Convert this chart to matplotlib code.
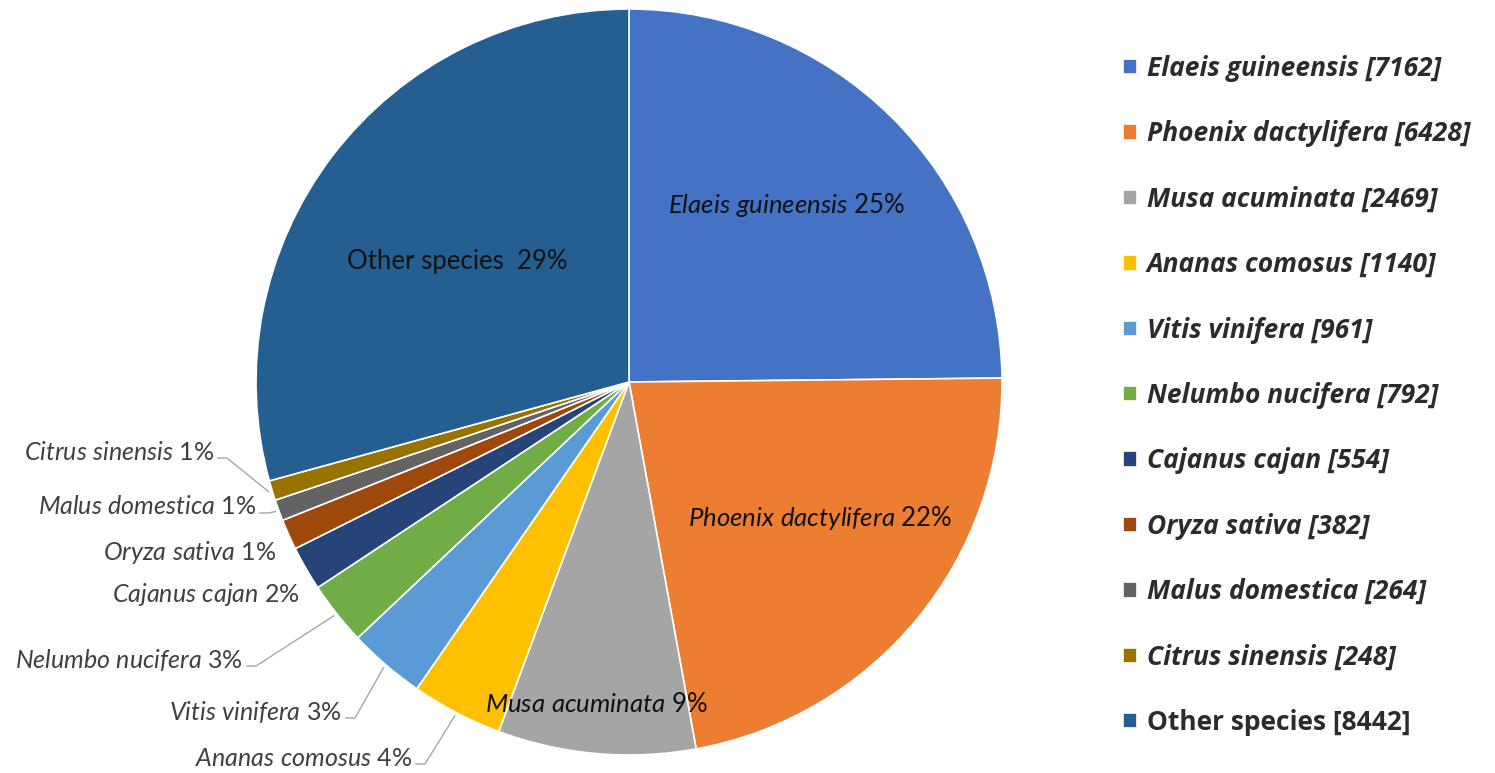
import numpy as np
import matplotlib.pyplot as plt
from matplotlib import font_manager

plt.rcParams['mathtext.fontset'] = 'custom'
plt.rcParams['mathtext.it'] = 'Lato:italic'
plt.rcParams['mathtext.rm'] = 'Lato'

available = {f.name for f in font_manager.fontManager.ttflist}
inner_font = 'Liberation Sans Narrow' if 'Liberation Sans Narrow' in available else 'Lato'

species = ['Elaeis guineensis', 'Phoenix dactylifera', 'Musa acuminata', 'Ananas comosus',
           'Vitis vinifera', 'Nelumbo nucifera', 'Cajanus cajan', 'Oryza sativa',
           'Malus domestica', 'Citrus sinensis', 'Other species']
counts = [7162, 6428, 2469, 1140, 961, 792, 554, 382, 264, 248, 8442]
colors = ['#4472C4', '#ED7D31', '#A5A5A5', '#FFC000', '#5B9BD5', '#70AD47',
          '#264478', '#9E480E', '#636363', '#997300', '#255E91']

W, H = 1495, 773
cx, cy, R = 629, 382, 373

# label layout in image pixels (x, y from top)
inner_pos = {0: (668, 205), 1: (688, 518), 2: (485, 704), 10: (347, 262)}
outer_pos = {3: (412, 758), 4: (342, 712), 5: (243, 660), 6: (300, 594),
             7: (276, 552), 8: (256, 507), 9: (214, 452)}
with_leader = [3, 4, 5, 8, 9]

total = sum(counts)
pcts = [round(100 * c / total) for c in counts]

fig = plt.figure(figsize=(W / 100, H / 100), dpi=100)
ax = fig.add_axes([0, 0, 1, 1])
wedges, _ = ax.pie(counts, colors=colors, startangle=90, counterclock=False,
                   center=(cx, H - cy), radius=R,
                   wedgeprops=dict(edgecolor='white', linewidth=1.2))
ax.set_xlim(0, W)
ax.set_ylim(0, H)
ax.set_aspect('equal')
ax.axis('off')


def label_text(i):
    if species[i] == 'Other species':
        return f"Other species  {pcts[i]}%"
    name = species[i].replace(' ', r'\ ')
    return r"$\mathit{" + name + "}$ " + f"{pcts[i]}%"


for i, (x, y) in inner_pos.items():
    ax.text(x, H - y, label_text(i), ha='left', va='center', fontsize=18.5,
            family=inner_font, color='#111111')

for i, (x, y) in outer_pos.items():
    ax.text(x, H - y, label_text(i), ha='right', va='center', fontsize=18,
            family='Lato', color='#404040')
    if i in with_leader:
        w = wedges[i]
        th = np.deg2rad((w.theta1 + w.theta2) / 2)
        px = cx + R * 1.01 * np.cos(th)
        py = (H - cy) + R * 1.01 * np.sin(th)
        ly = H - y - 6
        ax.plot([x + 4, x + 13, px], [ly, ly, py], color='#a6a6a6', lw=1)

legend_labels = [f"{s} [{c}]" for s, c in zip(species, counts)]
leg = fig.legend(wedges, legend_labels, loc='upper left',
                 bbox_to_anchor=(1123 / W, 1 - 55 / H), frameon=False,
                 prop=dict(family='Open Sans', weight='bold', style='italic', size=19),
                 handlelength=0.52, handleheight=0.52, handletextpad=0.38,
                 labelspacing=1.455, borderpad=0, borderaxespad=0)
for t in leg.get_texts():
    t.set_color('#2b2b2b')
leg.get_texts()[-1].set_style('normal')

fig.savefig('out.png', dpi=100)
